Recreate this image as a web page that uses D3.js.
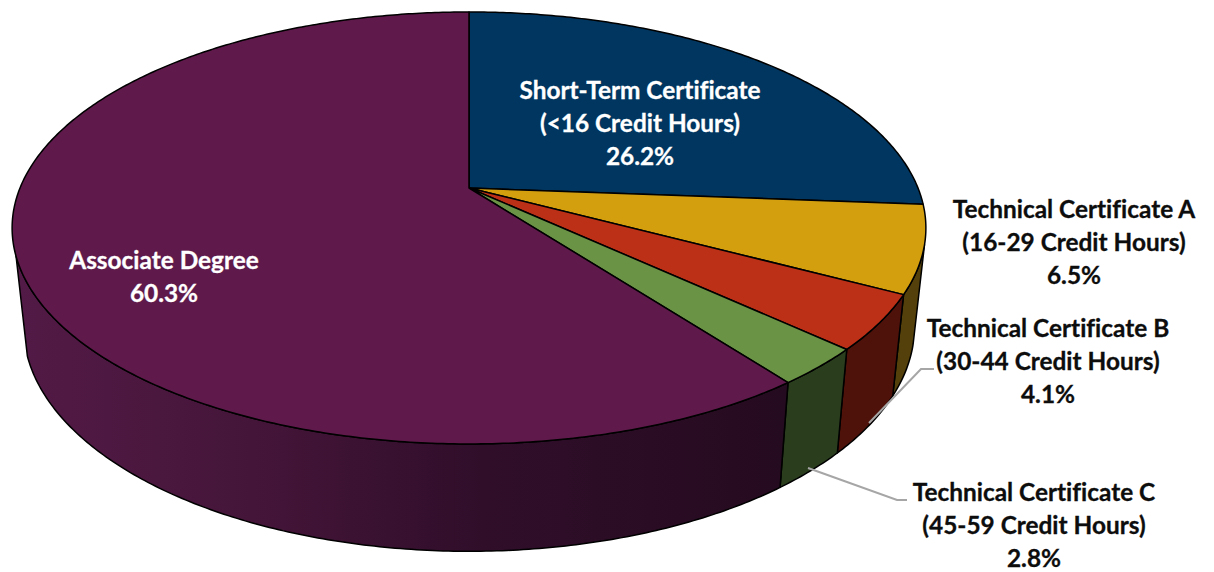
<!DOCTYPE html>
<html>
<head>
<meta charset="utf-8">
<script src="https://cdn.jsdelivr.net/npm/d3@7"></script>
<style>
  html, body { margin: 0; padding: 0; background: #fff; }
  text { font-family: Lato, "Open Sans", sans-serif; font-weight: 700; text-anchor: middle; font-variant-ligatures: none; }
</style>
</head>
<body>
<div id="chart"></div>
<script>
// data
var categories = ["Short-Term Certificate", "Technical Certificate A", "Technical Certificate B", "Technical Certificate C", "Associate Degree"];
var creditHours = ["(<16 Credit Hours)", "(16-29 Credit Hours)", "(30-44 Credit Hours)", "(45-59 Credit Hours)", null];
var values = [26.2, 6.5, 4.1, 2.8, 60.3];

var topColors = ["#003660", "#d49f0e", "#bb3016", "#6a9345", "#5f1a4b"];
var sideColors = ["#001b30", "#54400a", "#4e120a", "#2a3e1e", "url(#sideFade)"];
var labelColors = ["#fff", "#0d0d0d", "#0d0d0d", "#0d0d0d", "#fff"];

// set the dimensions of the page
var width = 1214,
    height = 572;

// centre of each label and the baseline of its first line
var labelPos = [[640, 99], [1074, 218], [1048, 337], [1034, 501], [164, 269]];
var lineGap = 33;
var leaders = [
  [[869, 423], [921, 369], [934, 369]],
  [[808, 468], [897, 500], [907, 500]]
];

// tilted disc: the pie apex is not the middle of the ellipse
var tilt = -0.185;
var x = d3.scaleLinear().domain([-1, 1]).range([20, 918]);
var y = d3.scaleLinear().domain([0, 1]).range([188, 396.6]);
// lower rim of the disc
var xLow = d3.scaleLinear().domain([-1, 1]).range([31.2, 906.8]);
var yLow = d3.scaleLinear().domain([0, 1]).range([285, 502]);

// side wall only shows between these two angles
var wallFrom = 105 * Math.PI / 180,
    wallTo = 252 * Math.PI / 180;

function rimPoint(a, sx, sy) {
  var u = Math.sin(a), v = -Math.cos(a);
  var den = 1 + tilt * v;
  return [sx(u / den), sy(v / den)];
}

function arcPoints(a0, a1, sx, sy) {
  var n = Math.max(2, Math.ceil(Math.abs(a1 - a0) / 0.01));
  return d3.range(n + 1).map(function(i) {
    return rimPoint(a0 + (a1 - a0) * i / n, sx, sy);
  });
}

var line = d3.line();
var slices = d3.pie().sort(null)(values);

var svg = d3.select("#chart")
  .append("svg")
  .attr("width", width)
  .attr("height", height)
  .style("display", "block");

// shading along the front wall of the big slice
var fade = svg.append("defs").append("linearGradient")
  .attr("id", "sideFade")
  .attr("gradientUnits", "userSpaceOnUse")
  .attr("x1", 20).attr("x2", 790).attr("y1", 0).attr("y2", 0);
fade.append("stop").attr("offset", "0%").attr("stop-color", "#521a46");
fade.append("stop").attr("offset", "30%").attr("stop-color", "#451539");
fade.append("stop").attr("offset", "60%").attr("stop-color", "#300e2a");
fade.append("stop").attr("offset", "100%").attr("stop-color", "#250b1f");

// Add the walls
svg.append("g")
  .selectAll("path")
  .data(slices.filter(function(d) { return d.endAngle > wallFrom; }))
  .enter()
  .append("path")
  .attr("d", function(d) {
    var a0 = Math.max(d.startAngle, wallFrom),
        a1 = Math.min(d.endAngle, wallTo);
    return line(arcPoints(a0, a1, x, y).concat(arcPoints(a1, a0, xLow, yLow))) + "Z";
  })
  .attr("fill", function(d) { return sideColors[d.index]; })
  .attr("stroke", "#000")
  .attr("stroke-width", 1.5)
  .attr("stroke-linejoin", "round");

// Add the top face
svg.append("g")
  .selectAll("path")
  .data(slices)
  .enter()
  .append("path")
  .attr("d", function(d) {
    return line([[x(0), y(0)]].concat(arcPoints(d.startAngle, d.endAngle, x, y))) + "Z";
  })
  .attr("fill", function(d) { return topColors[d.index]; })
  .attr("stroke", "#000")
  .attr("stroke-width", 1.5)
  .attr("stroke-linejoin", "round");

// leader lines
svg.append("g")
  .selectAll("path")
  .data(leaders)
  .enter()
  .append("path")
  .attr("d", line)
  .attr("fill", "none")
  .attr("stroke", "#a6a6a6")
  .attr("stroke-width", 2);

// Add the labels
var labels = svg.append("g")
  .selectAll("text")
  .data(categories)
  .enter()
  .append("text")
  .attr("x", function(d, i) { return labelPos[i][0]; })
  .attr("y", function(d, i) { return labelPos[i][1]; })
  .attr("fill", function(d, i) { return labelColors[i]; })
  .attr("stroke", function(d, i) { return labelColors[i]; })
  .attr("stroke-width", 0.3)
  .style("font-size", "24.4px");

labels.each(function(d, i) {
  var rows = [d, creditHours[i], values[i].toFixed(1) + "%"].filter(function(r) { return r; });
  d3.select(this).selectAll("tspan")
    .data(rows)
    .enter()
    .append("tspan")
    .attr("x", labelPos[i][0])
    .attr("y", function(r, j) { return labelPos[i][1] + j * lineGap; })
    .text(function(r) { return r; });
});
</script>
</body>
</html>
